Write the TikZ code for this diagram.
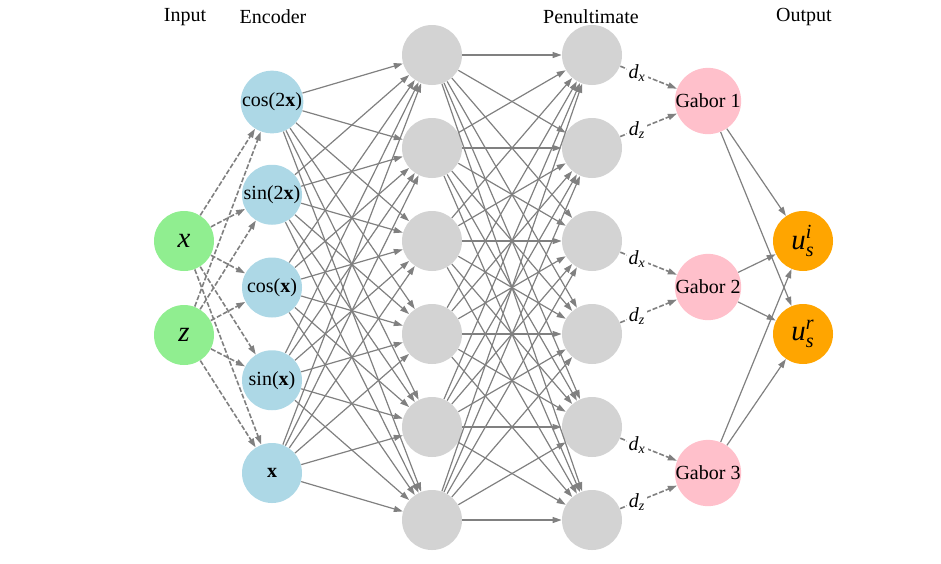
\documentclass[tikz,border=0pt]{standalone}
\usepackage{amsmath}
\usepackage{fontspec}
\setmainfont{Liberation Serif}
\usetikzlibrary{arrows.meta}
\definecolor{inputgreen}{HTML}{90EE90}
\definecolor{encblue}{HTML}{ADD8E6}
\definecolor{hidgray}{HTML}{D3D3D3}
\definecolor{gaborpink}{HTML}{FFC0CB}
\definecolor{outorange}{HTML}{FFA500}

\begin{document}
\begin{tikzpicture}[x=0.5pt,y=-0.5pt,
    neuron/.style={circle,minimum size=30pt,inner sep=0pt},
    edge/.style={draw=gray,line width=0.6pt,-{Triangle[length=4.5pt,width=3pt]}},
    dashedge/.style={edge,line width=0.8pt,dash pattern=on 2.5pt off 1pt}]
\useasboundingbox (0,0) rectangle (941,563);
%layers
\node[neuron,fill=inputgreen] (in1) at (184,241) {\Large\textit{x}};
\node[neuron,fill=inputgreen] (in2) at (184,335) {\Large\textit{z}};
\foreach \lab [count=\i] in {cos(2\textbf{x}),sin(2\textbf{x}),cos(\textbf{x}),sin(\textbf{x}),\textbf{x}}
    \node[neuron,fill=encblue] (enc\i) at (272,{102+92.75*(\i-1)}) {\lab};
\foreach \i in {1,...,6}{
    \node[neuron,fill=hidgray] (hid\i) at (432,{55+93*(\i-1)}) {};
    \node[neuron,fill=hidgray] (pen\i) at (592,{55+93*(\i-1)}) {};
}
\foreach \i in {1,2,3}
    \node[neuron,fill=gaborpink] (gab\i) at (708,{101+186*(\i-1)}) {Gabor \i};
\node[neuron,fill=outorange] (out1) at (803,241) {\Large$\textit{u}_{\textit{s}}^{\textit{i}}$};
\node[neuron,fill=outorange] (out2) at (803,334) {\Large$\textit{u}_{\textit{s}}^{\textit{r}}$};
%connections
\foreach \i in {1,2}
    \foreach \j in {1,...,5}
        \draw[dashedge] (in\i) -- (enc\j);
\foreach \i in {1,...,5}
    \foreach \j in {1,...,6}
        \draw[edge] (enc\i) -- (hid\j);
\foreach \i in {1,...,6}
    \foreach \j in {1,...,6}
        \draw[edge] (hid\i) -- (pen\j);
\foreach \i/\g/\d in {1/1/x,2/1/z,3/2/x,4/2/z,5/3/x,6/3/z}
    \draw[dashedge] (pen\i) -- node[pos=0.3,fill=white,inner sep=1pt] {$\textit{d}_{\textit{\d}}$} (gab\g);
\foreach \g in {1,2,3}
    \foreach \o in {1,2}
        \draw[edge] (gab\g) -- (out\o);
%labels
\node (hin) at (185,17) {Input};
\node (henc) at (273,17) {Encoder};
\node (hpen) at (591,17) {Penultimate};
\node (hout) at (804,17) {Output};
\end{tikzpicture}
\end{document}
